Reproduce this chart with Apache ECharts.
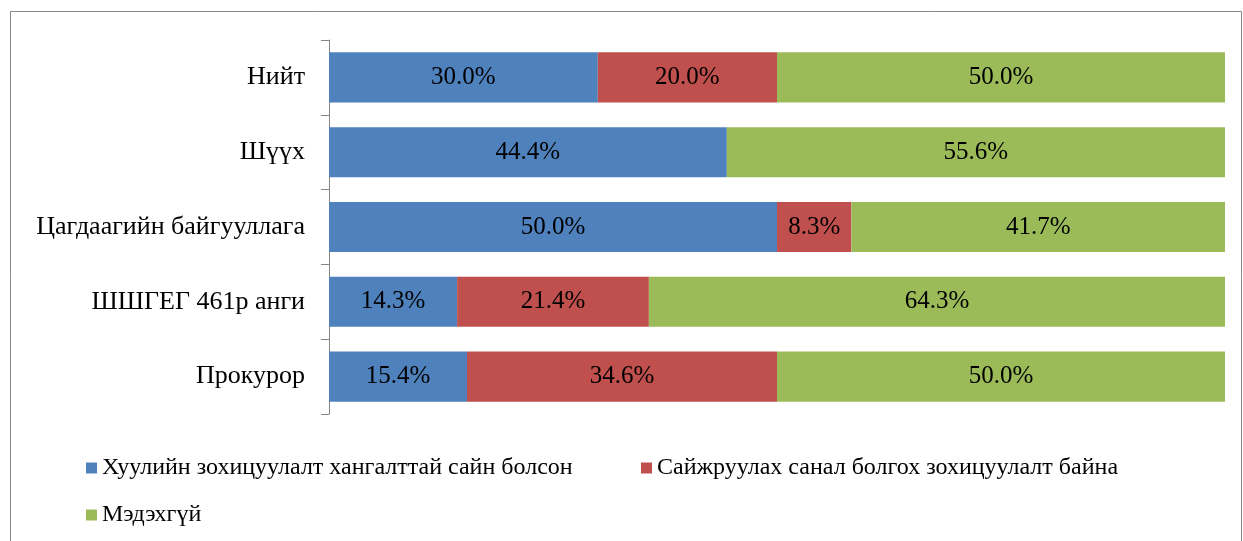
<!DOCTYPE html>
<html>
<head>
<meta charset="utf-8">
<script src="https://cdn.jsdelivr.net/npm/echarts@6/dist/echarts.min.js"></script>
<style>
  html, body { margin: 0; padding: 0; background: #fff; }
  #chart { width: 1243px; height: 541px; }
</style>
</head>
<body>
<div id="chart"></div>
<script>
// категориуд (доороос дээш)
const categories = ['Прокурор', 'ШШГЕГ 461р анги', 'Цагдаагийн байгууллага', 'Шүүх', 'Нийт']
const seriesNames = [
  'Хуулийн зохицуулалт хангалттай сайн болсон',
  'Сайжруулах санал болгох зохицуулалт байна',
  'Мэдэхгүй'
]
const goodValues = [15.4, 14.3, 50.0, 44.4, 30.0]
const improveValues = [34.6, 21.4, 8.3, 0, 20.0]
const unknownValues = [50.0, 64.3, 41.7, 55.6, 50.0]
const colors = ['#4F81BD', '#C0504D', '#9BBB59']

const font = 'Liberation Serif'
const chart = echarts.init(document.getElementById('chart'))

const makeSeries = (name, data, color) => ({
  name: name,
  type: 'bar',
  stack: 'total',
  data: data,
  barCategoryGap: '33%',
  itemStyle: { color: color },
  label: {
    show: true,
    position: 'inside',
    color: '#000',
    fontFamily: font,
    fontSize: 25,
    formatter: p => (p.value > 0 ? p.value.toFixed(1) + '%' : '')
  }
})

const legendBase = {
  icon: 'rect',
  itemWidth: 11,
  itemHeight: 11,
  itemGap: 5,
  padding: 0,
  textStyle: { fontFamily: font, fontSize: 24, color: '#000' }
}

chart.setOption({
  animation: false,
  color: colors,
  graphic: [{
    type: 'rect',
    shape: { x: 10.5, y: 11.5, width: 1231, height: 540 },
    style: { fill: 'none', stroke: '#888', lineWidth: 1 },
    silent: true
  }],
  grid: { left: 329, right: 18, top: 40, bottom: 127 },
  xAxis: {
    type: 'value',
    min: 0,
    max: 100,
    show: false
  },
  yAxis: {
    type: 'category',
    data: categories,
    axisLine: { show: true, lineStyle: { color: '#868686' } },
    axisTick: { show: true, length: 8, lineStyle: { color: '#868686' } },
    axisLabel: { fontFamily: font, fontSize: 26, color: '#000', margin: 24 }
  },
  // легенд
  legend: [
    Object.assign({ data: [seriesNames[0]], left: 86, top: 456 }, legendBase),
    Object.assign({ data: [seriesNames[1]], left: 641, top: 456 }, legendBase),
    Object.assign({ data: [seriesNames[2]], left: 86, top: 503 }, legendBase)
  ],
  series: [
    makeSeries(seriesNames[0], goodValues, colors[0]),
    makeSeries(seriesNames[1], improveValues, colors[1]),
    makeSeries(seriesNames[2], unknownValues, colors[2])
  ]
})
</script>
</body>
</html>
